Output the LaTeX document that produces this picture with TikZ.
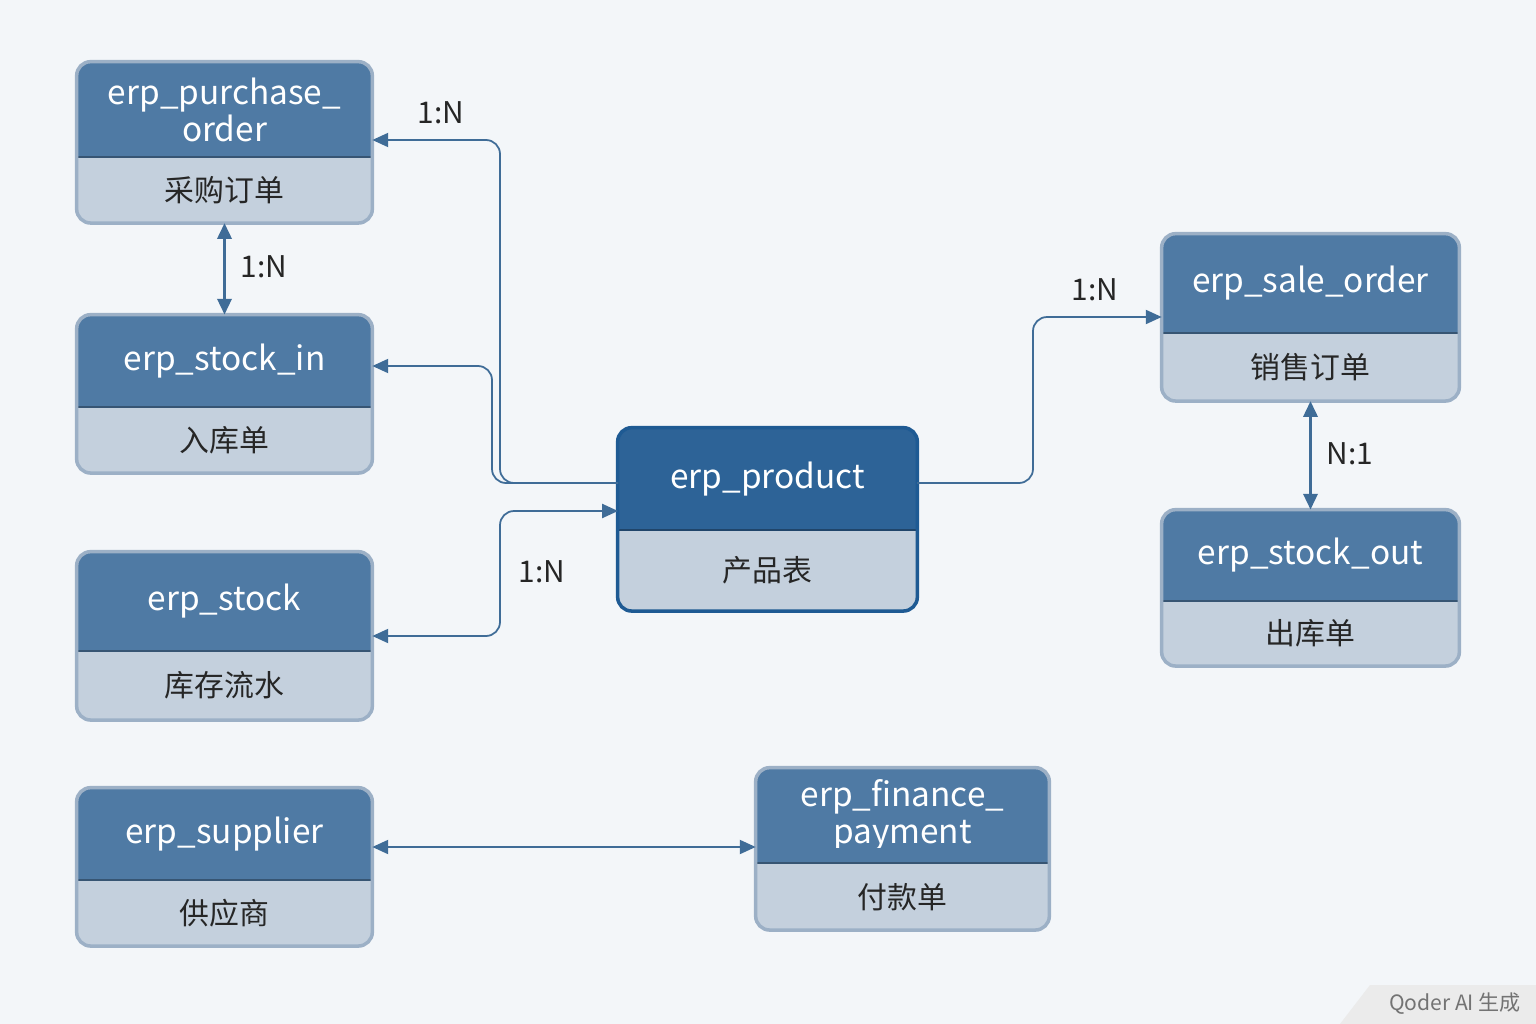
\documentclass[tikz,border=0pt]{standalone}
\usepackage{fontspec}
\setmainfont{Noto Sans CJK SC}
\usetikzlibrary{positioning,arrows.meta}
\definecolor{hdrblue}{HTML}{4F7AA4}
\definecolor{hdrdark}{HTML}{2D6397}
\definecolor{bodygrey}{HTML}{C4D0DD}
\definecolor{rimgrey}{HTML}{9CB0C6}
\definecolor{rimdark}{HTML}{1E5A93}
\definecolor{linkblue}{HTML}{3F6C97}
\definecolor{bggrey}{HTML}{F3F6F9}

\begin{document}
\begin{tikzpicture}[x=0.02cm, y=-0.02cm,
    hdr/.style={rectangle, draw=none, rounded corners=7pt, text=white, align=center,
                font=\fontsize{19}{21}\selectfont, inner sep=0pt},
    bdy/.style={rectangle, draw=none, fill=bodygrey, rounded corners=7pt, text=black!85,
                font=\fontsize{17}{20}\selectfont, inner sep=0pt},
    link/.style={draw=linkblue, line width=1pt, rounded corners=8pt, -{Triangle[length=9pt,width=8pt]}},
    biglink/.style={link, {Triangle[length=9pt,width=8pt]}-{Triangle[length=9pt,width=8pt]}},
    thicklink/.style={biglink, line width=1.8pt},
    card/.style={font=\fontsize{17}{20}\selectfont, text=black!85}
  ]
  \fill[bggrey] (0,0) rectangle (1536,1024);
  \useasboundingbox (0,0) rectangle (1536,1024);

  % header heights and body heights in px
  \node[hdr, fill=hdrblue, minimum width=295*0.02cm, minimum height=95*0.02cm] (purchase) at (224.5,109.5) {erp\_purchase\_\\order};
  \node[bdy, minimum width=295*0.02cm, minimum height=65*0.02cm] (purchaseb) [below=0 of purchase] {采购订单};

  \node[hdr, fill=hdrblue, minimum width=295*0.02cm, minimum height=92*0.02cm] (stockin) at (224.5,361) {erp\_stock\_in};
  \node[bdy, minimum width=295*0.02cm, minimum height=65*0.02cm] (stockinb) [below=0 of stockin] {入库单};

  \node[hdr, fill=hdrblue, minimum width=295*0.02cm, minimum height=99*0.02cm] (stock) at (224.5,601.5) {erp\_stock};
  \node[bdy, minimum width=295*0.02cm, minimum height=68*0.02cm] (stockb) [below=0 of stock] {库存流水};

  \node[hdr, fill=hdrblue, minimum width=295*0.02cm, minimum height=92*0.02cm] (supplier) at (224.5,834) {erp\_supplier};
  \node[bdy, minimum width=295*0.02cm, minimum height=65*0.02cm] (supplierb) [below=0 of supplier] {供应商};

  \node[hdr, fill=hdrdark, minimum width=299*0.02cm, minimum height=102*0.02cm] (product) at (767.5,479) {erp\_product};
  \node[bdy, minimum width=299*0.02cm, minimum height=80*0.02cm] (productb) [below=0 of product] {产品表};

  \node[hdr, fill=hdrblue, minimum width=297*0.02cm, minimum height=99*0.02cm] (sale) at (1310.5,283.5) {erp\_sale\_order};
  \node[bdy, minimum width=297*0.02cm, minimum height=67*0.02cm] (saleb) [below=0 of sale] {销售订单};

  \node[hdr, fill=hdrblue, minimum width=297*0.02cm, minimum height=91*0.02cm] (stockout) at (1310.5,555.5) {erp\_stock\_out};
  \node[bdy, minimum width=297*0.02cm, minimum height=64*0.02cm] (stockoutb) [below=0 of stockout] {出库单};

  \node[hdr, fill=hdrblue, minimum width=293*0.02cm, minimum height=95*0.02cm] (finance) at (902.5,815.5) {erp\_finance\_\\payment};
  \node[bdy, minimum width=293*0.02cm, minimum height=66*0.02cm] (financeb) [below=0 of finance] {付款单};

  % square off the joints and draw the rims
  \foreach \n/\c/\r in {purchase/hdrblue/rimgrey, stockin/hdrblue/rimgrey, stock/hdrblue/rimgrey,
                        supplier/hdrblue/rimgrey, product/hdrdark/rimdark, sale/hdrblue/rimgrey,
                        stockout/hdrblue/rimgrey, finance/hdrblue/rimgrey} {
    \fill[\c] (\n.south west) rectangle ([yshift=9pt]\n.south east);
    \fill[bodygrey] (\n b.north west) rectangle ([yshift=-9pt]\n b.north east);
    \draw[\c!70!black, line width=1.2pt] (\n.south west) -- (\n.south east);
    \draw[\r, line width=2pt, rounded corners=8pt] (\n.north west) rectangle (\n b.south east);
  }

  \coordinate (pw1) at (618,483);
  \coordinate (pw2) at (618,511);
  \coordinate (pe) at (917,483);

  \draw[link] (pw1) -| (500,140) -- (purchase.east |- 0,140);
  \draw[link] (pw1) -| (492,366) -- (stockin.east |- 0,366);
  \draw[biglink] (stock.east |- 0,636) -| (500,511) -- (pw2);
  \draw[link] (pe) -| (1033,317) -- (sale.west |- 0,317);
  \draw[thicklink] (purchaseb.south) -- (stockin.north);
  \draw[thicklink] (saleb.south) -- (stockout.north);
  \draw[biglink] (supplier.east |- 0,847) -- (finance.west |- 0,847);

  \node[card] (l1) at (441,113) {1:N};
  \node[card] (l2) at (264,267) {1:N};
  \node[card] (l3) at (542,572) {1:N};
  \node[card] (l4) at (1095,290) {1:N};
  \node[card] (l5) at (1350,454) {N:1};

  \fill[black!8] (1340,1024) -- (1370,985) -- (1536,985) -- (1536,1024) -- cycle;
  \node[font=\fontsize{12}{14}\selectfont, text=black!55] (mark) at (1455,1004) {Qoder AI 生成};
\end{tikzpicture}
\end{document}
